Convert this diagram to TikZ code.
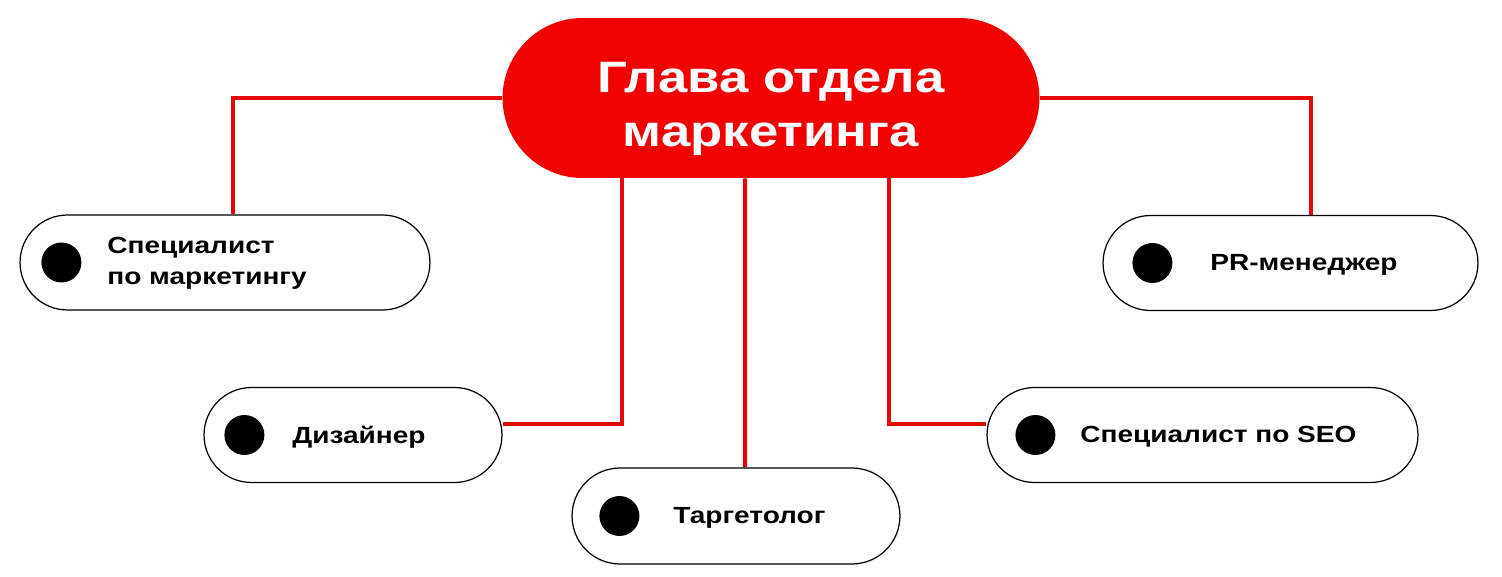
\documentclass[tikz,border=0pt]{standalone}
\usepackage{fontspec}
\setmainfont{Liberation Sans}[FakeStretch=1.2]
\usetikzlibrary{shapes.misc,backgrounds}
\definecolor{headred}{RGB}{240,0,0}
\definecolor{linkred}{RGB}{228,8,8}
\tikzset{
  headpill/.style={rounded rectangle, fill=headred, minimum width=10.74cm, minimum height=3.2cm, inner sep=0pt},
  headlabel/.style={text=white, align=center, inner sep=0pt, font=\fontsize{25}{31}\selectfont\bfseries},
  rolepill/.style={rounded rectangle, draw=black, line width=0.7pt, fill=white, minimum height=1.9cm, inner sep=0pt},
  bullet/.style={circle, fill=black, minimum size=0.8cm, inner sep=0pt},
  rolelabel/.style={anchor=west, align=left, inner sep=0pt, font=\fontsize{13.3}{17.6}\selectfont\bfseries},
  link/.style={draw=linkred, line width=2.3pt}
}

\begin{document}
\begin{tikzpicture}[x=0.02cm, y=-0.02cm]
			%%%%% START %%%%%
			\useasboundingbox (0,0) rectangle (1502,577);
			
			\node[headpill] (head) at (771,98) {};
			\node[headlabel] (headlbl) at ([yshift=-0.22cm]head.center) {Глава отдела\\маркетинга};
			
			\node[rolepill, minimum width=8.2cm] (spec) at (225,262.5) {};
			\node[bullet] (specdot) at ([xshift=0.84cm]spec.west) {};
			\node[rolelabel] (speclbl) at (107,263) {Специалист\\по маркетингу};
			
			\node[rolepill, minimum width=7.5cm] (pr) at (1290.5,263) {};
			\node[bullet] (prdot) at ([xshift=1cm]pr.west) {};
			\node[rolelabel] (prlbl) at (1210,265) {PR-менеджер};
			
			\node[rolepill, minimum width=5.96cm] (diz) at (353,435) {};
			\node[bullet] (dizdot) at ([xshift=0.82cm]diz.west) {};
			\node[rolelabel] (dizlbl) at (292,437) {Дизайнер};
			
			\node[rolepill, minimum width=6.56cm, minimum height=1.92cm] (targ) at (736,516) {};
			\node[bullet] (targdot) at ([xshift=0.96cm]targ.west) {};
			\node[rolelabel] (targlbl) at (673,518) {Таргетолог};
			
			\node[rolepill, minimum width=8.62cm] (seo) at (1202.5,435) {};
			\node[bullet] (seodot) at ([xshift=0.98cm]seo.west) {};
			\node[rolelabel] (seolbl) at (1080,437) {Специалист по SEO};
			
			\begin{scope}[on background layer]
			\draw[link] (head.west) -| ([xshift=0.16cm]spec.north);
			\draw[link] (head.east) -| ([xshift=0.41cm]pr.north);
			\draw[link] ([xshift=-2.98cm]head.south) |- ([yshift=0.22cm]diz.east);
			\draw[link] ([xshift=-0.52cm]head.south) -- ([xshift=0.18cm]targ.north);
			\draw[link] ([xshift=2.36cm]head.south) |- ([yshift=0.22cm]seo.west);
			\end{scope}
			%%%%% END %%%%%
\end{tikzpicture}
\end{document}
